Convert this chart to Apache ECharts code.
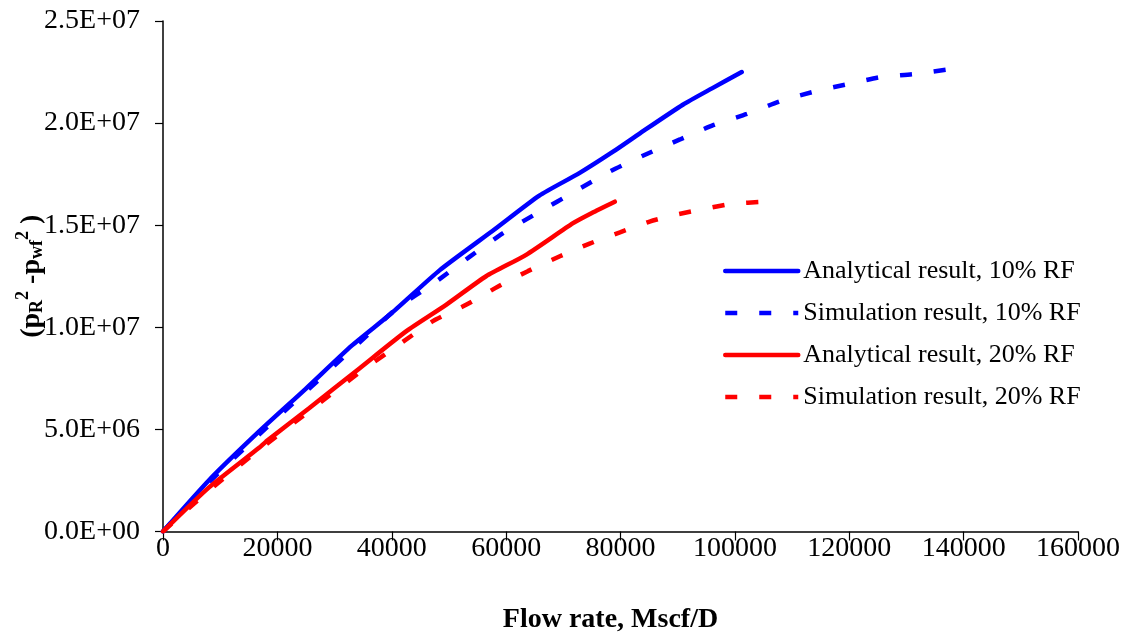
<!DOCTYPE html>
<html>
<head>
<meta charset="utf-8">
<script src="https://cdn.jsdelivr.net/npm/echarts@6/dist/echarts.min.js"></script>
<style>
html,body{margin:0;padding:0;background:#fff;}
#chart{width:1127px;height:637px;}
</style>
</head>
<body>
<div id="chart"></div>
<script>
// Data: [flow rate (Mscf/D), pR^2 - pwf^2]
var analytical10 = [[0,0],[8000,2.5e6],[16800,4.9e6],[25000,7.0e6],[33000,9.1e6],[40000,1.07e7],[48400,1.28e7],[58000,1.48e7],[65800,1.645e7],[72800,1.755e7],[78700,1.86e7],[83400,1.95e7],[90900,2.09e7],[96000,2.17e7],[101200,2.25e7]];
var simulation10 = [[0,0],[8000,2.4e6],[16800,4.75e6],[25000,6.85e6],[33000,8.9e6],[40800,1.09e7],[47800,1.225e7],[53600,1.345e7],[59400,1.46e7],[65800,1.565e7],[72000,1.665e7],[78100,1.762e7],[83900,1.84e7],[90400,1.92e7],[96200,1.99e7],[102100,2.045e7],[108200,2.11e7],[114000,2.155e7],[119600,2.19e7],[125400,2.225e7],[131200,2.24e7],[137800,2.265e7]];
var analytical20 = [[0,0],[8000,2.15e6],[16800,4.1e6],[18000,4.4e6],[25600,6.05e6],[34400,8.0e6],[42500,9.8e6],[49500,1.11e7],[56500,1.25e7],[63500,1.355e7],[71700,1.51e7],[75000,1.56e7],[79000,1.615e7]];
var simulation20 = [[0,0],[8000,2.0e6],[16800,4.0e6],[25600,5.9e6],[34400,7.8e6],[41000,9.1e6],[47200,1.03e7],[53000,1.11e7],[58600,1.2e7],[63800,1.275e7],[69400,1.348e7],[74600,1.41e7],[79900,1.465e7],[85100,1.518e7],[89900,1.553e7],[95100,1.582e7],[99500,1.605e7],[105300,1.615e7]];
var seriesNames = ['Analytical result, 10% RF','Simulation result, 10% RF','Analytical result, 20% RF','Simulation result, 20% RF'];
var xTitle = 'Flow rate, Mscf/D';

function sci(v){
  if (v === 0) return '0.0E+00';
  var e = Math.floor(Math.log10(Math.abs(v)) + 1e-9);
  var m = v / Math.pow(10, e);
  return m.toFixed(1) + 'E+' + (e < 10 ? '0' + e : e);
}

var font = 'Liberation Serif';
var fs = 28;
var chart = echarts.init(document.getElementById('chart'), null, {renderer:'canvas'});
var dash = [12, 22];
function mk(name, data, color, dashed){
  return {
    name: name, type: 'line', data: data, symbol: 'none', showSymbol: false, smooth: 0.2,
    lineStyle: {color: color, width: 4.5, type: dashed ? dash : 'solid', cap: dashed ? 'butt' : 'round'},
    itemStyle: {color: color}
  };
}
chart.setOption({
  animation: false,
  backgroundColor: '#fff',
  grid: {left: 163, right: 49, top: 21, bottom: 105.5, containLabel: false, outerBoundsMode: 'none'},
  legend: {
    orient: 'vertical', left: 718, top: 253,
    itemWidth: 73, itemHeight: 14, itemGap: 16, itemTextGap: 2,
    itemStyle: {opacity: 0, borderWidth: 0},
    lineStyle: {width: 4.5},
    textStyle: {fontFamily: font, fontSize: 26, color: '#000'},
    data: seriesNames
  },
  xAxis: {
    type: 'value', min: 0, max: 160000, interval: 20000,
    name: xTitle, nameLocation: 'middle', nameGap: 74, nameMoveOverlap: false,
    nameTextStyle: {fontFamily: font, fontSize: fs, fontWeight: 'bold', color: '#000', padding: [0, 20, 0, 0]},
    axisLine: {lineStyle: {color: '#000', width: 1.5}},
    axisTick: {show: true, length: 9, lineStyle: {color: '#000', width: 1.2}},
    axisLabel: {fontFamily: font, fontSize: fs, color: '#000', margin: 3, formatter: function(v){return String(v);}},
    splitLine: {show: false}
  },
  yAxis: {
    type: 'value', min: 0, max: 2.5e7, interval: 5e6,
    name: '{b|(p}{s|R}{u|2}{b| -p}{s|wf}{u|2}{b| )}',
    nameLocation: 'middle', nameGap: 113, nameRotate: 90, nameMoveOverlap: false,
    nameTextStyle: {
      fontFamily: font, color: '#000',
      rich: {
        b: {fontFamily: font, fontSize: fs, fontWeight: 'bold', color: '#000'},
        s: {fontFamily: font, fontSize: 18, fontWeight: 'bold', color: '#000', padding: [10,0,0,0]},
        u: {fontFamily: font, fontSize: 18, fontWeight: 'bold', color: '#000', padding: [0,0,18,0]}
      }
    },
    axisLine: {show: true, lineStyle: {color: '#000', width: 1.5}},
    axisTick: {show: true, length: 8, lineStyle: {color: '#000', width: 1.2}},
    axisLabel: {fontFamily: font, fontSize: fs, color: '#000', margin: 23, formatter: sci},
    splitLine: {show: false}
  },
  series: [
    mk(seriesNames[0], analytical10, '#0000ff', false),
    mk(seriesNames[1], simulation10, '#0000ff', true),
    mk(seriesNames[2], analytical20, '#ff0000', false),
    mk(seriesNames[3], simulation20, '#ff0000', true)
  ]
});
</script>
</body>
</html>
